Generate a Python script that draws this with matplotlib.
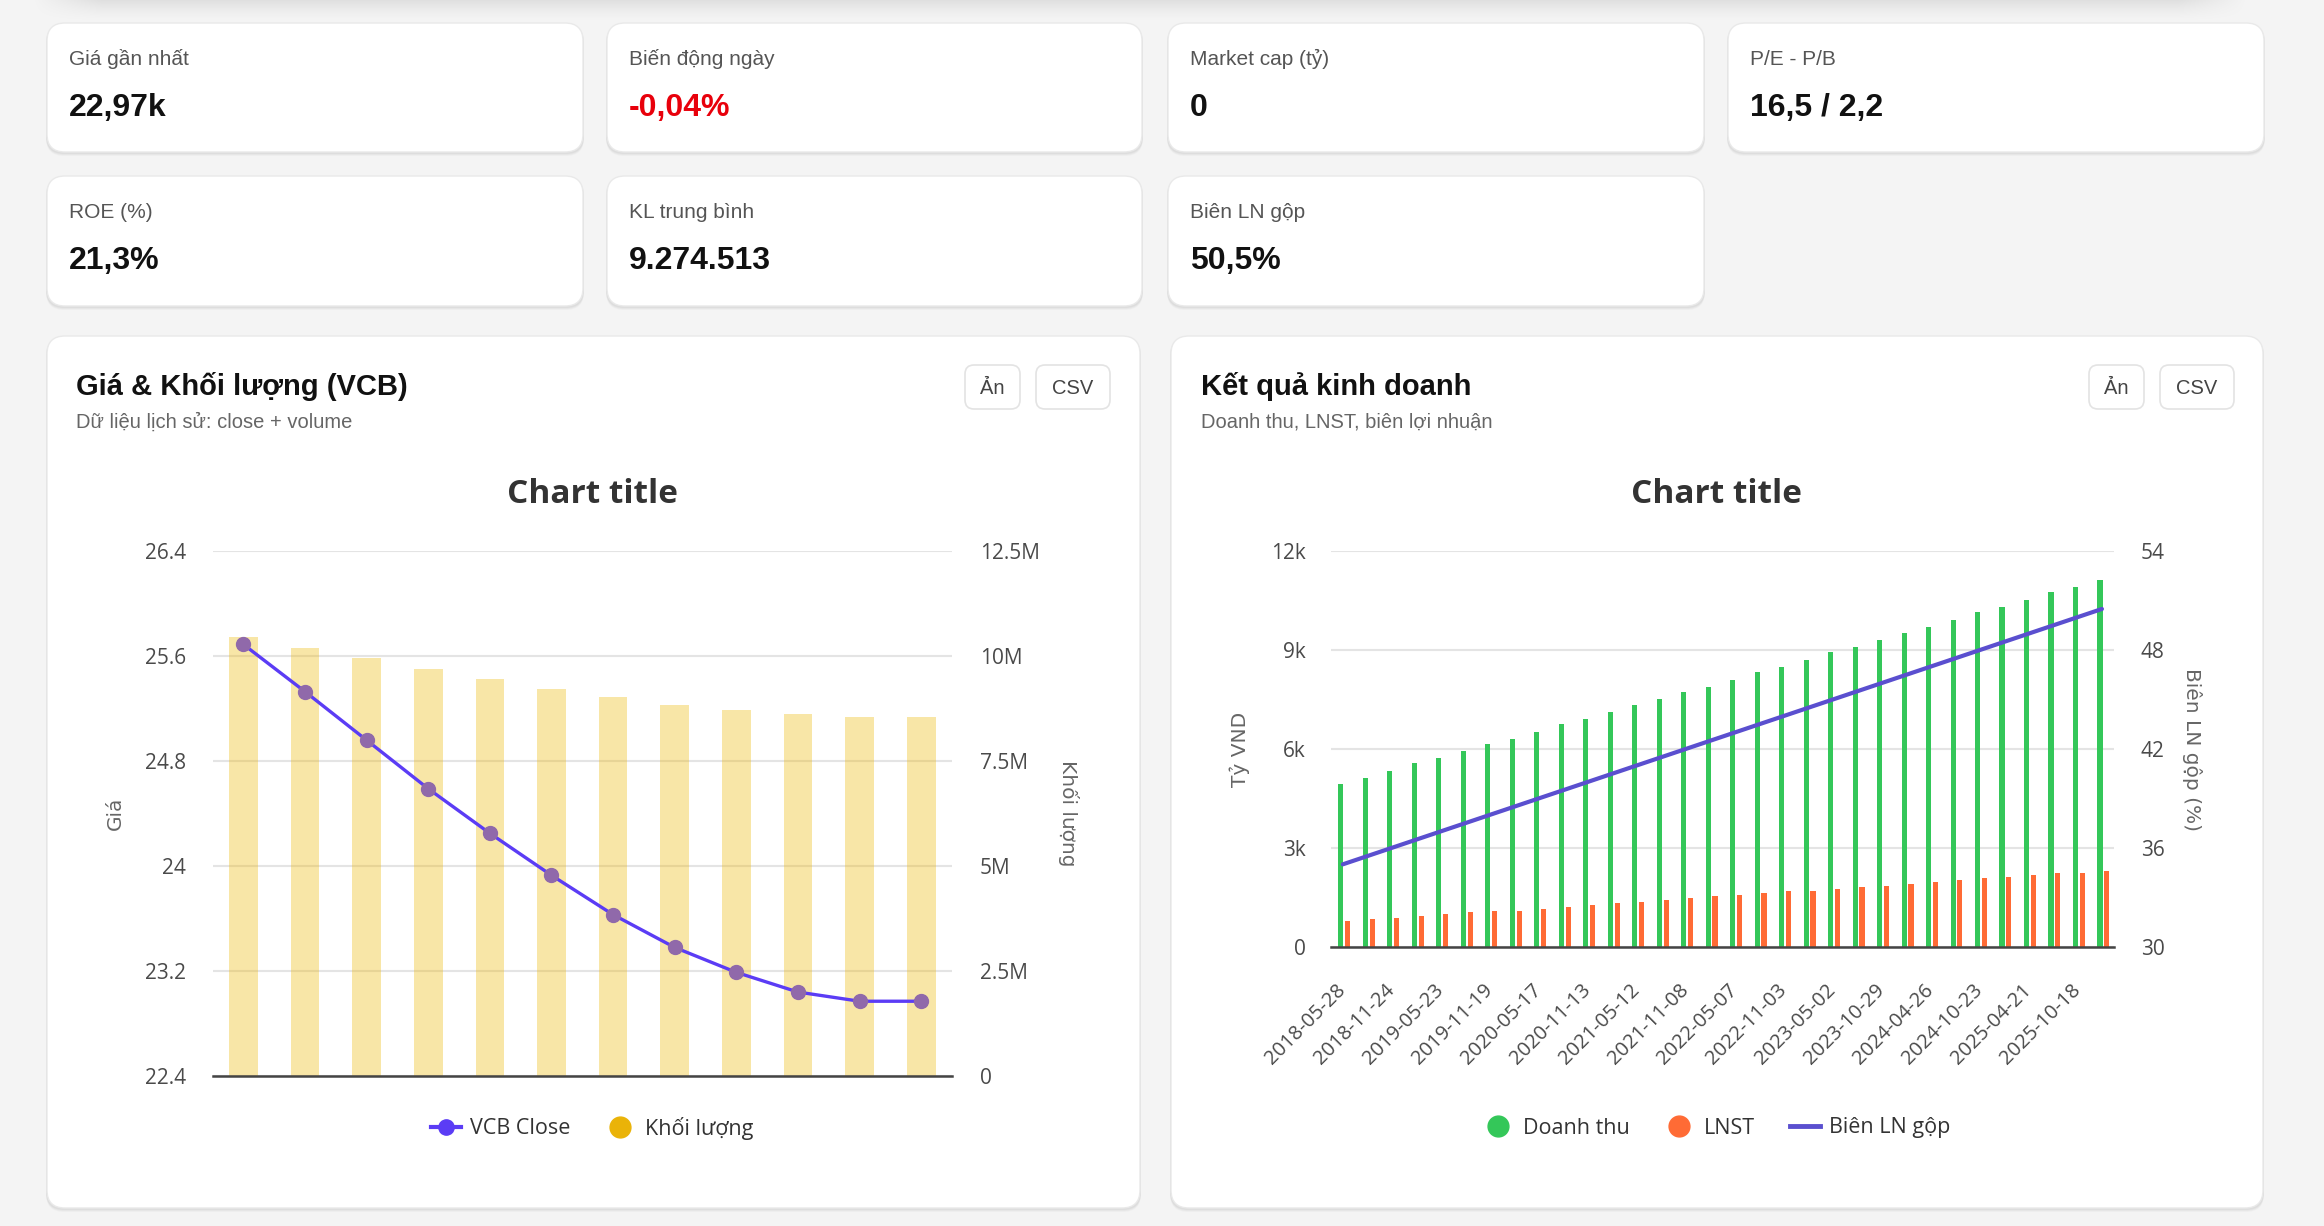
import matplotlib
matplotlib.use('Agg')
import matplotlib.pyplot as plt
from matplotlib.patches import FancyBboxPatch
from matplotlib.lines import Line2D
import numpy as np

W, H = 2324, 1226
DPI = 100

# ---------------- data ----------------
kpi_labels = ["Giá gần nhất", "Biến động ngày", "Market cap (tỷ)", "P/E - P/B",
              "ROE (%)", "KL trung bình", "Biên LN gộp"]
kpi_values = ["22,97k", "-0,04%", "0", "16,5 / 2,2", "21,3%", "9.274.513", "50,5%"]
kpi_colors = ["#111111", "#e8000b", "#111111", "#111111", "#111111", "#111111", "#111111"]

price_close = [25.69, 25.33, 24.96, 24.59, 24.25, 23.93, 23.63, 23.38, 23.19, 23.04, 22.97, 22.97]
volume = [10.45e6, 10.2e6, 9.95e6, 9.7e6, 9.45e6, 9.22e6, 9.02e6, 8.84e6, 8.71e6, 8.62e6, 8.55e6, 8.55e6]
price_ticks = [22.4, 23.2, 24.0, 24.8, 25.6, 26.4]
price_tick_labels = ["22.4", "23.2", "24", "24.8", "25.6", "26.4"]
vol_ticks = [0, 2.5e6, 5e6, 7.5e6, 10e6, 12.5e6]
vol_tick_labels = ["0", "2.5M", "5M", "7.5M", "10M", "12.5M"]

period_dates = ["2018-05-28", "2018-08-26", "2018-11-24", "2019-02-22", "2019-05-23", "2019-08-21",
                "2019-11-19", "2020-02-17", "2020-05-17", "2020-08-15", "2020-11-13", "2021-02-11",
                "2021-05-12", "2021-08-10", "2021-11-08", "2022-02-06", "2022-05-07", "2022-08-05",
                "2022-11-03", "2023-02-01", "2023-05-02", "2023-07-31", "2023-10-29", "2024-01-27",
                "2024-04-26", "2024-07-25", "2024-10-23", "2025-01-21", "2025-04-21", "2025-07-20",
                "2025-10-18", "2026-01-16"]
revenue = [4950, 5110, 5340, 5560, 5720, 5940, 6150, 6310, 6530, 6750, 6920, 7130, 7350, 7510, 7730, 7890,
           8100, 8330, 8490, 8710, 8930, 9090, 9300, 9520, 9690, 9910, 10150, 10310, 10530, 10750, 10910, 11130]
profit = [775, 826, 886, 936, 987, 1047, 1097, 1097, 1148, 1208, 1258, 1319, 1369, 1420, 1480, 1530,
          1581, 1641, 1691, 1691, 1752, 1802, 1852, 1913, 1963, 2013, 2074, 2124, 2185, 2235, 2235, 2285]
gross_margin = [35.0, 35.5, 36.0, 36.5, 37.0, 37.5, 38.0, 38.5, 39.0, 39.5, 40.0, 40.5, 41.0, 41.5, 42.0, 42.5,
                43.0, 43.5, 44.0, 44.5, 45.0, 45.5, 46.0, 46.5, 47.0, 47.5, 48.0, 48.5, 49.0, 49.5, 50.0, 50.5]
rev_ticks = [0, 3000, 6000, 9000, 12000]
rev_tick_labels = ["0", "3k", "6k", "9k", "12k"]
margin_ticks = [30, 36, 42, 48, 54]
margin_tick_labels = ["30", "36", "42", "48", "54"]

# ---------------- styles ----------------
SANS = ["Liberation Sans", "DejaVu Sans"]
UI = ["Open Sans", "DejaVu Sans"]
AXT = ["DejaVu Sans"]
C_LINE = "#5b3cf5"
C_MARK = "#9069aa"
C_VOL = (238 / 255, 186 / 255, 12 / 255, 0.36)
C_GOLD = "#eab308"
C_GREEN = "#34c759"
C_ORANGE = "#ff6b35"
C_MARGIN = "#5a4fcf"
C_GRID = "#e4e4e4"
C_TICK = "#4a4a4a"

fig = plt.figure(figsize=(W / DPI, H / DPI), dpi=DPI)
fig.patch.set_facecolor("#f4f4f4")
bg = fig.add_axes([0, 0, 1, 1])
bg.set_xlim(0, W)
bg.set_ylim(H, 0)
bg.axis("off")
bg.set_zorder(0)


def px_axes(x0, y0, x1, y1):
    return fig.add_axes([x0 / W, 1 - y1 / H, (x1 - x0) / W, (y1 - y0) / H])


def card(x0, y0, x1, y1, r=18):
    for i, a in enumerate([0.035, 0.03, 0.025]):
        bg.add_patch(FancyBboxPatch((x0 - 1, y0 + 1 + i), x1 - x0 + 2, y1 - y0 + 1,
                                    boxstyle=f"round,pad=0,rounding_size={r}",
                                    fc="black", ec="none", alpha=a))
    bg.add_patch(FancyBboxPatch((x0, y0), x1 - x0, y1 - y0,
                                boxstyle=f"round,pad=0,rounding_size={r}",
                                fc="white", ec="#e9e9e9", lw=1))


def button(x0, x1, y0, y1, label):
    bg.add_patch(FancyBboxPatch((x0, y0), x1 - x0, y1 - y0,
                                boxstyle="round,pad=0,rounding_size=9",
                                fc="white", ec="#e3e3e3", lw=1.2))
    bg.text((x0 + x1) / 2, y0 + 29, label, ha="center", va="baseline",
            fontsize=14.5, color="#444", family=SANS)


# soft top shadow (decoration of the element above the cards)
sx0, sx1, sy1 = 30, 2250, 24
gx = np.linspace(sx0, sx1, 600)
gy = np.linspace(0, sy1, 40)
fade_x = np.clip((gx - sx0) / 70.0, 0, 1) * np.clip((sx1 - gx) / 70.0, 0, 1)
fade_y = (1 - gy / sy1) ** 1.6
shadow = np.zeros((len(gy), len(gx), 4))
shadow[..., 3] = 0.085 * fade_y[:, None] * fade_x[None, :]
bg.imshow(shadow, extent=[sx0, sx1, sy1, 0], aspect="auto", interpolation="bilinear", zorder=0)
bg.set_xlim(0, W)
bg.set_ylim(H, 0)

# KPI cards
card_x = [(47, 583), (607, 1142), (1168, 1704), (1728, 2264)]
rows = [(23, 152), (176, 306)]
text_x = [69, 629, 1190, 1750]
for i, (lab, val, col) in enumerate(zip(kpi_labels, kpi_values, kpi_colors)):
    r, c = divmod(i, 4)
    x0, x1 = card_x[c]
    y0, y1 = rows[r]
    card(x0, y0, x1, y1)
    bg.text(text_x[c], y0 + 42, lab, fontsize=15, color="#555", family=SANS, va="baseline")
    bg.text(text_x[c], y0 + 93, val, fontsize=23, color=col, family=SANS,
            weight="bold", va="baseline")

# chart cards
card(47, 336, 1140, 1208)
card(1171, 336, 2263, 1208)
bg.text(76, 395, "Giá & Khối lượng (VCB)", fontsize=21, weight="bold", color="#111",
        family=SANS, va="baseline")
bg.text(76, 428, "Dữ liệu lịch sử: close + volume", fontsize=14.5, color="#666",
        family=SANS, va="baseline")
bg.text(1201, 395, "Kết quả kinh doanh", fontsize=21, weight="bold", color="#111",
        family=SANS, va="baseline")
bg.text(1201, 428, "Doanh thu, LNST, biên lợi nhuận", fontsize=14.5, color="#666",
        family=SANS, va="baseline")
button(965, 1020, 365, 409, "Ản")
button(1036, 1110, 365, 409, "CSV")
button(2089, 2144, 365, 409, "Ản")
button(2160, 2234, 365, 409, "CSV")

bg.text(592, 503, "Chart title", fontsize=24, weight="bold", color="#333",
        family=UI, ha="center", va="baseline")
bg.text(1716, 503, "Chart title", fontsize=24, weight="bold", color="#333",
        family=UI, ha="center", va="baseline")

# axis titles
bg.text(115, 813, "Giá", rotation=90, fontsize=14.5, color="#666", family=AXT,
        ha="center", va="center")
bg.text(1069, 813, "Khối lượng", rotation=270, fontsize=14.5, color="#666", family=AXT,
        ha="center", va="center")
bg.text(1240, 749, "Tỷ VND", rotation=90, fontsize=14.5, color="#666", family=AXT,
        ha="center", va="center")
bg.text(2192, 749, "Biên LN gộp (%)", rotation=270, fontsize=14.5, color="#666", family=AXT,
        ha="center", va="center")

# ---------------- left chart ----------------
ax1 = px_axes(212.6, 551.3, 952, 1076)
axv = ax1.twinx()
axv.set_zorder(1)
ax1.set_zorder(2)
ax1.patch.set_visible(False)
axv.patch.set_visible(False)

x = np.arange(len(price_close))
axv.bar(x, volume, width=0.466, color=C_VOL, zorder=2)
ax1.plot(x, price_close, color=C_LINE, lw=2.4, marker="o", ms=10, mfc=C_MARK, mec=C_MARK,
         zorder=3, solid_capstyle="round")
ax1.set_xlim(-0.5, len(x) - 0.5)
ax1.set_ylim(22.4, 26.4)
axv.set_ylim(0, 12.5e6)
ax1.set_yticks(price_ticks)
ax1.set_yticklabels(price_tick_labels)
axv.set_yticks(vol_ticks)
axv.set_yticklabels(vol_tick_labels)
axv.yaxis.grid(True, color=C_GRID, lw=1.5, zorder=0)
axv.set_axisbelow(True)
ax1.set_xticks([])
axv.set_xticks([])
for a in (ax1, axv):
    for s in a.spines.values():
        s.set_visible(False)
ax1.spines["bottom"].set_visible(True)
ax1.spines["bottom"].set_color("#444")
ax1.spines["bottom"].set_linewidth(1.8)
ax1.tick_params(axis="y", length=0, pad=19, labelsize=15, labelcolor=C_TICK)
axv.tick_params(axis="y", length=0, pad=20, labelsize=15, labelcolor=C_TICK)
for lab in ax1.get_yticklabels() + axv.get_yticklabels():
    lab.set_family(UI)

# ---------------- right chart ----------------
ax2 = px_axes(1330.6, 551.3, 2114.2, 946.7)
ax2r = ax2.twinx()
ax2.patch.set_visible(False)
x2 = np.arange(len(revenue))
ax2.bar(x2 - 0.08, revenue, width=0.21, color=C_GREEN, zorder=2)
ax2.bar(x2 + 0.2, profit, width=0.21, color=C_ORANGE, zorder=2)
ax2r.plot(x2, gross_margin, color=C_MARGIN, lw=3, zorder=3, solid_capstyle="round")
ax2.set_xlim(-0.5, len(x2) - 0.5)
ax2.set_ylim(0, 12000)
ax2r.set_ylim(30, 54)
ax2.set_yticks(rev_ticks)
ax2.set_yticklabels(rev_tick_labels)
ax2r.set_yticks(margin_ticks)
ax2r.set_yticklabels(margin_tick_labels)
ax2.yaxis.grid(True, color=C_GRID, lw=1.5, zorder=0)
ax2.set_axisbelow(True)
ax2.set_xticks(x2[::2])
ax2.set_xticklabels(period_dates[::2], rotation=45, ha="right", va="center",
                    rotation_mode="anchor")
for a in (ax2, ax2r):
    for s in a.spines.values():
        s.set_visible(False)
ax2.spines["bottom"].set_visible(True)
ax2.spines["bottom"].set_color("#444")
ax2.spines["bottom"].set_linewidth(1.8)
ax2.tick_params(axis="y", length=0, pad=18, labelsize=15, labelcolor=C_TICK)
ax2r.tick_params(axis="y", length=0, pad=19, labelsize=15, labelcolor=C_TICK)
ax2.tick_params(axis="x", length=0, pad=29, labelsize=14.5, labelcolor=C_TICK)
for lab in ax2.get_yticklabels() + ax2r.get_yticklabels() + ax2.get_xticklabels():
    lab.set_family(UI)

# ---------------- legends ----------------
h_left = [Line2D([], [], color=C_LINE, lw=3, marker="o", ms=11, mfc=C_LINE, mec=C_LINE),
          Line2D([], [], ls="none", marker="o", ms=15, color=C_GOLD)]
leg1 = bg.legend(h_left, ["VCB Close", "Khối lượng"], loc="center", bbox_to_anchor=(592, 1128),
                 bbox_transform=bg.transData, ncol=2, frameon=False, handlelength=1.4,
                 handletextpad=0.45, columnspacing=1.6, prop={"family": UI, "size": 15.5},
                 labelcolor="#333")
bg.add_artist(leg1)
h_right = [Line2D([], [], ls="none", marker="o", ms=15, color=C_GREEN),
           Line2D([], [], ls="none", marker="o", ms=15, color=C_ORANGE),
           Line2D([], [], color=C_MARGIN, lw=3.5)]
leg2 = bg.legend(h_right, ["Doanh thu", "LNST", "Biên LN gộp"], loc="center",
                 bbox_to_anchor=(1717, 1128), bbox_transform=bg.transData, ncol=3,
                 frameon=False, handlelength=1.4, handletextpad=0.45, columnspacing=1.6,
                 prop={"family": UI, "size": 15.5}, labelcolor="#333")

fig.savefig("out.png", dpi=DPI, facecolor=fig.get_facecolor())
